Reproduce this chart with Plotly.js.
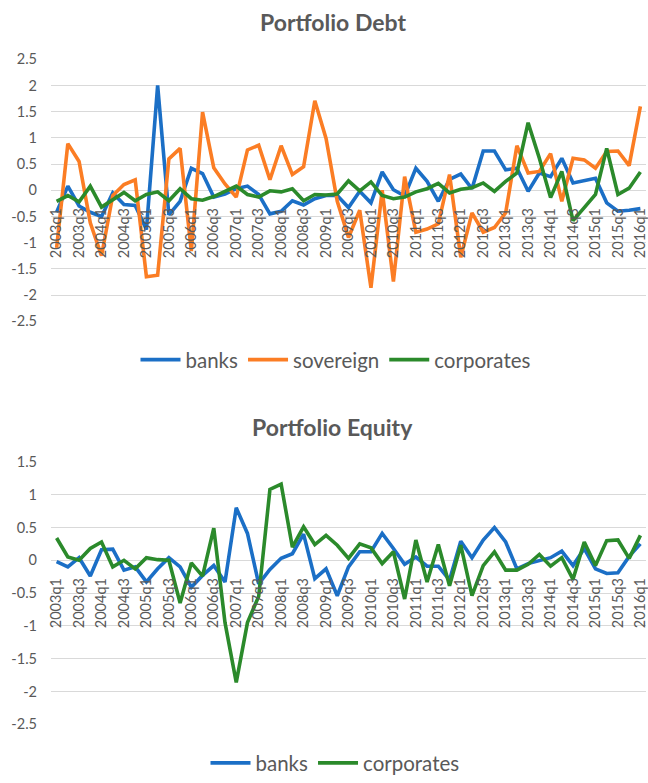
<!DOCTYPE html>
<html>
<head>
<meta charset="utf-8">
<script src="https://cdn.plot.ly/plotly-3.0.1.min.js"></script>
<style>
  html, body { margin: 0; padding: 0; background: #ffffff; }
  #chart { width: 648px; height: 783px; }
</style>
</head>
<body>
<div id="chart"></div>
<script>
// ---- Data ----
var quarters = [];
for (var yr = 2003; yr <= 2016; yr++) {
  for (var q = 1; q <= 4; q++) {
    if (yr === 2016 && q > 1) break;
    quarters.push(yr + "q" + q);
  }
}

var debtBanks = [-0.42, 0.08, -0.30, -0.42, -0.50, -0.05, -0.27, -0.29, -0.75, 2.00,
  -0.47, -0.21, 0.42, 0.32, -0.13, -0.07, 0.03, 0.08, -0.08, -0.45,
  -0.40, -0.20, -0.28, -0.16, -0.10, -0.10, -0.33, -0.02, -0.24, 0.35,
  0.01, -0.11, 0.42, 0.17, -0.21, 0.21, 0.31, 0.03, 0.75, 0.75,
  0.39, 0.42, -0.02, 0.33, 0.26, 0.61, 0.14, 0.18, 0.23, -0.24,
  -0.40, -0.38, -0.35];

var debtSovereign = [-1.10, 0.89, 0.55, -0.62, -1.25, -0.10, 0.11, 0.20, -1.65, -1.62,
  0.60, 0.80, -1.16, 1.49, 0.43, 0.12, -0.13, 0.77, 0.86, 0.20,
  0.85, 0.30, 0.45, 1.71, 0.99, -0.21, -0.90, -0.38, -1.86, 0.00,
  -1.74, 0.26, -0.80, -0.74, -0.64, 0.30, -1.28, -0.43, -0.80, -0.71,
  -0.43, 0.85, 0.33, 0.36, 0.70, -0.21, 0.61, 0.58, 0.42, 0.74,
  0.75, 0.47, 1.60];

var debtCorporates = [-0.21, -0.10, -0.22, 0.08, -0.32, -0.18, -0.04, -0.20, -0.08, -0.03,
  -0.20, 0.03, -0.16, -0.19, -0.12, -0.02, 0.08, -0.08, -0.13, -0.01,
  -0.03, 0.03, -0.20, -0.08, -0.09, -0.07, 0.18, -0.01, 0.16, -0.10,
  -0.16, -0.13, -0.03, 0.03, 0.13, -0.05, 0.02, 0.05, 0.14, -0.02,
  0.17, 0.33, 1.29, 0.61, -0.14, 0.36, -0.58, -0.33, -0.08, 0.80,
  -0.08, 0.04, 0.35];

var equityBanks = [-0.02, -0.10, 0.04, -0.24, 0.16, 0.17, -0.15, -0.10, -0.33, -0.13,
  0.04, -0.10, -0.41, -0.23, -0.08, -0.33, 0.80, 0.41, -0.36, -0.14,
  0.03, 0.10, 0.40, -0.28, -0.13, -0.54, -0.10, 0.13, 0.13, 0.41,
  0.18, -0.06, 0.05, -0.09, -0.09, -0.30, 0.29, 0.04, 0.31, 0.50,
  0.28, -0.13, -0.05, -0.01, 0.04, 0.14, -0.08, 0.18, -0.13, -0.20,
  -0.19, 0.06, 0.25];

var equityCorporates = [0.34, 0.05, 0.00, 0.18, 0.28, -0.10, 0.00, -0.13, 0.04, 0.01,
  0.00, -0.65, -0.04, -0.24, 0.49, -0.95, -1.86, -0.95, -0.55, 1.08,
  1.16, 0.20, 0.51, 0.24, 0.38, 0.23, 0.03, 0.25, 0.19, -0.05,
  0.13, -0.59, 0.31, -0.33, 0.24, -0.39, 0.23, -0.54, -0.08, 0.13,
  -0.15, -0.15, -0.06, 0.09, -0.09, 0.04, -0.29, 0.28, -0.08, 0.30,
  0.31, 0.03, 0.38];

var debtTickVals = [2.5, 2, 1.5, 1, 0.5, 0, -0.5, -1, -1.5, -2, -2.5];
var debtTickText = ["2.5", "2", "1.5", "1", "0.5", "0", "-0.5", "-1", "-1.5", "-2", "-2.5"];
var equityTickVals = [1.5, 1, 0.5, 0, -0.5, -1, -1.5, -2, -2.5];
var equityTickText = ["1.5", "1", "0.5", "0", "-0.5", "-1", "-1.5", "-2", "-2.5"];

var seriesNames = ["banks", "sovereign", "corporates"];
var chartTitles = ["Portfolio Debt", "Portfolio Equity"];

// ---- Styling ----
var FONT = "Lato, 'Open Sans', sans-serif";
var TXT = "#595959";
var GRID = "#d9d9d9";
var C_BLUE = "#1b6fc6";
var C_ORANGE = "#fb7d24";
var C_GREEN = "#2b8a2b";
var LW = 3.6;

var H = 783;
var ML = 51, MR = 2, PW = 648 - ML - MR;
function py(pixel) { return 1 - pixel / H; }
function px(pixel) { return (pixel - ML) / PW; }

var traces = [
  { x: quarters, y: debtBanks, name: seriesNames[0], type: "scatter", mode: "lines",
    line: { color: C_BLUE, width: LW }, xaxis: "x", yaxis: "y", legend: "legend" },
  { x: quarters, y: debtSovereign, name: seriesNames[1], type: "scatter", mode: "lines",
    line: { color: C_ORANGE, width: LW }, xaxis: "x", yaxis: "y", legend: "legend" },
  { x: quarters, y: debtCorporates, name: seriesNames[2], type: "scatter", mode: "lines",
    line: { color: C_GREEN, width: LW }, xaxis: "x", yaxis: "y", legend: "legend" },
  { x: quarters, y: equityBanks, name: seriesNames[0], type: "scatter", mode: "lines",
    line: { color: C_BLUE, width: LW }, xaxis: "x2", yaxis: "y2", legend: "legend2" },
  { x: quarters, y: equityCorporates, name: seriesNames[2], type: "scatter", mode: "lines",
    line: { color: C_GREEN, width: LW }, xaxis: "x2", yaxis: "y2", legend: "legend2" }
];

function xAxis(pos) {
  return {
    type: "category",
    domain: [0, 1],
    range: [-0.5, quarters.length - 0.5],
    anchor: "free",
    position: pos,
    tickmode: "linear", tick0: 0, dtick: 2,
    tickangle: -90,
    tickfont: { family: FONT, size: 14.5, color: TXT },
    ticks: "",
    showgrid: false,
    showline: false,
    zeroline: false,
    fixedrange: true,
    ticklabelstandoff: 14
  };
}
function yAxis(dom, range, vals, texts, anchor) {
  return {
    domain: dom,
    range: range,
    anchor: anchor,
    tickmode: "array", tickvals: vals, ticktext: texts,
    tickfont: { family: FONT, size: 14.5, color: TXT },
    showgrid: true, gridcolor: GRID, gridwidth: 1,
    zeroline: true, zerolinecolor: GRID, zerolinewidth: 1,
    showline: false, ticks: "",
    ticklabelstandoff: 13,
    fixedrange: true
  };
}

var layout = {
  width: 648, height: 783,
  margin: { l: ML, r: MR, t: 0, b: 0 },
  paper_bgcolor: "#ffffff", plot_bgcolor: "#ffffff",
  font: { family: FONT, color: TXT },
  showlegend: true,
  xaxis: xAxis(py(192.3)),
  yaxis: yAxis([py(325), py(60)], [-2.5, 2.5], debtTickVals, debtTickText, "x"),
  xaxis2: xAxis(py(566.7)),
  yaxis2: yAxis([py(732.7), py(467.3)], [-2.5, 1.5], equityTickVals, equityTickText, "x2"),
  legend: {
    orientation: "h", x: px(336), xanchor: "center", y: py(364), yanchor: "middle",
    font: { family: FONT, size: 20.5, color: TXT }, itemwidth: 40, bgcolor: "rgba(0,0,0,0)"
  },
  legend2: {
    orientation: "h", x: px(335), xanchor: "center", y: py(772), yanchor: "middle",
    font: { family: FONT, size: 20.5, color: TXT }, itemwidth: 40, bgcolor: "rgba(0,0,0,0)"
  },
  annotations: [
    { text: "<b>" + chartTitles[0] + "</b>", xref: "paper", yref: "paper",
      x: px(333), y: py(22), xanchor: "center", yanchor: "middle", showarrow: false,
      font: { family: FONT, size: 23, color: TXT } },
    { text: "<b>" + chartTitles[1] + "</b>", xref: "paper", yref: "paper",
      x: px(332), y: py(432), xanchor: "center", yanchor: "middle", showarrow: false,
      font: { family: FONT, size: 23, color: TXT } }
  ]
};

Plotly.newPlot("chart", traces, layout, { displayModeBar: false, staticPlot: true });
</script>
</body>
</html>
